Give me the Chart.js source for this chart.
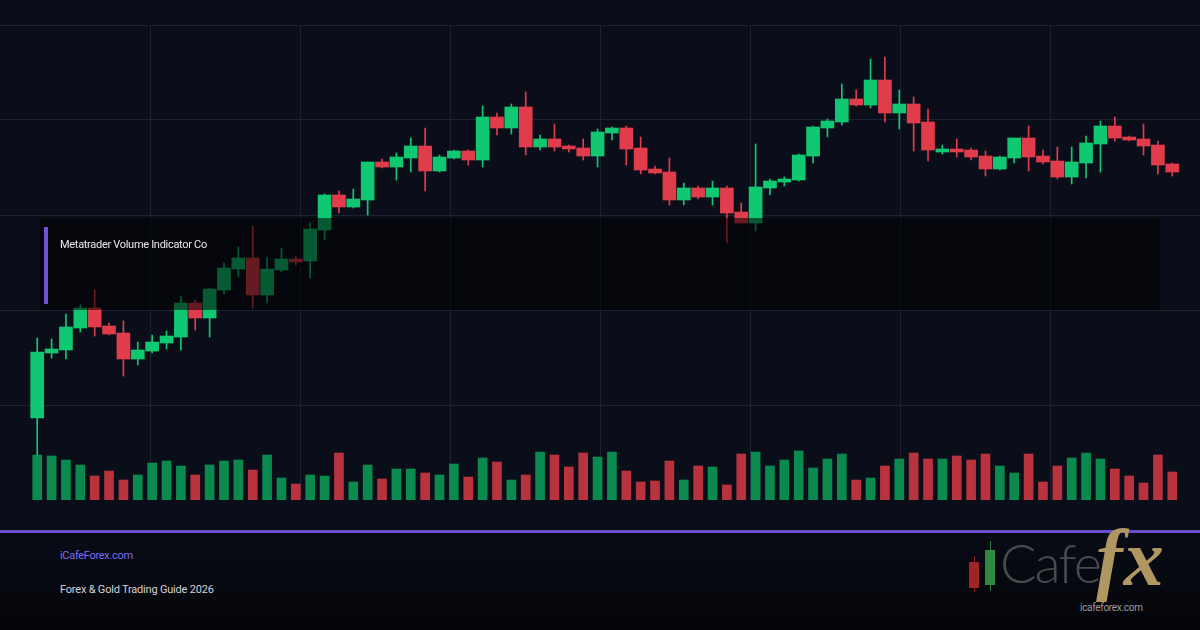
<!DOCTYPE html>
<html>
<head>
<meta charset="utf-8">
<script src="https://cdn.jsdelivr.net/npm/chart.js@4.4.1/dist/chart.umd.min.js"></script>
<style>
  html, body { margin: 0; padding: 0; }
  body {
    width: 1200px; height: 630px; overflow: hidden; position: relative;
    background: linear-gradient(to bottom, #0b0e1a 0px, #0a0e19 500px, #090c16 533px, #040509 630px);
    font-family: Roboto, "Noto Sans", sans-serif;
  }
  #chartBox { position: absolute; left: 0; top: 0; width: 1200px; height: 500px; }
  .overlay { position: absolute; left: 40px; top: 218px; width: 1120px; height: 92px; background: rgba(0, 0, 0, 0.55); }
  .accent { position: absolute; left: 44px; top: 227px; width: 4px; height: 77px; background: #6f52d9; }
  .label { position: absolute; left: 60px; top: 238px; font-size: 11px; color: #e6e6ea; letter-spacing: -0.3px; }
  .rule { position: absolute; left: 0; top: 530px; width: 1200px; height: 3px; background: #6a4fcf; }
  .site { position: absolute; left: 60px; top: 549px; font-size: 11px; color: #7b6cf0; letter-spacing: -0.3px; }
  .guide { position: absolute; left: 60px; top: 583px; font-size: 11px; color: #d4d4dc; letter-spacing: -0.2px; }
  .logo { position: absolute; left: 960px; top: 535px; width: 240px; height: 95px; }
  .logo .w { position: absolute; width: 1px; }
  .logo .b { position: absolute; width: 10px; }
  .logo .cafe { position: absolute; left: 40px; top: -5px; font-size: 54px; font-weight: 300; color: #4a4a4e; letter-spacing: -2px; font-family: Lato, Roboto, sans-serif; }
  .logo .fx { position: absolute; left: 136px; top: -22px; font-size: 80px; font-style: italic; font-weight: bold; color: #b09660; letter-spacing: 1px; font-family: "Liberation Serif", "DejaVu Serif", serif; }
  .logo .url { position: absolute; left: 120px; top: 67px; font-size: 10px; color: #9a9aa2; letter-spacing: -0.3px; }
</style>
</head>
<body>
<div id="chartBox"><canvas id="salesChart" width="1200" height="500"></canvas></div>
<div class="overlay"></div>
<div class="accent"></div>
<div class="label">Metatrader Volume Indicator Co</div>
<div class="rule"></div>
<div class="site">iCafeForex.com</div>
<div class="guide">Forex &amp; Gold Trading Guide 2026</div>
<div class="logo">
  <div class="w" style="left:14px;top:21px;height:36px;background:#8e1f22"></div>
  <div class="b" style="left:9px;top:27px;height:26px;background:#a0232a"></div>
  <div class="w" style="left:30px;top:6px;height:50px;background:#2b7a3a"></div>
  <div class="b" style="left:25px;top:15px;height:35px;background:#2e8a40"></div>
  <div class="cafe">Cafe</div>
  <div class="fx">fx</div>
  <div class="url">icafeforex.com</div>
</div>
<script>
// OHLC (price units, one per candle)
const opens  = [2082,2147,2150,2172,2192,2174,2167,2141,2149,2157,2163,2197,2182,2210,2231,2242,2205,2230,2241,2239,
                2270,2305,2293,2300,2338,2333,2342,2354,2329,2342,2349,2340,2383,2372,2393,2353,2361,2354,2352,2344,
                2367,2372,2352,2331,2328,2300,2312,2303,2312,2288,2277,2312,2318,2320,2344,2372,2378,2401,2395,2420,
                2387,2396,2378,2348,2351,2350,2344,2331,2342,2362,2344,2339,2323,2337,2356,2374,2363,2361,2355,2336];
const highs  = [2162,2161,2186,2195,2210,2177,2179,2158,2165,2169,2204,2200,2212,2237,2253,2274,2243,2252,2244,2277,
                2306,2309,2311,2338,2341,2347,2362,2372,2345,2350,2350,2394,2387,2396,2408,2365,2376,2355,2361,2371,
                2373,2374,2363,2334,2342,2317,2314,2319,2314,2297,2356,2321,2323,2346,2374,2381,2416,2410,2441,2443,
                2410,2403,2391,2355,2361,2352,2349,2344,2362,2374,2350,2353,2353,2364,2379,2383,2364,2376,2359,2337];
const lows   = [2045,2142,2141,2168,2164,2165,2124,2135,2147,2151,2150,2170,2163,2206,2223,2192,2197,2228,2235,2222,
                2260,2287,2292,2285,2332,2320,2328,2309,2328,2341,2335,2333,2365,2366,2345,2350,2349,2348,2340,2333,
                2360,2335,2326,2326,2295,2295,2301,2295,2257,2276,2269,2305,2314,2319,2337,2363,2375,2394,2392,2378,
                2371,2349,2339,2346,2343,2340,2324,2330,2337,2329,2336,2321,2316,2322,2328,2359,2359,2345,2326,2324];
const closes = [2148,2151,2173,2192,2173,2166,2141,2150,2158,2164,2197,2182,2211,2232,2242,2205,2231,2241,2238,2271,
                2305,2293,2301,2338,2333,2343,2354,2329,2343,2349,2340,2383,2372,2393,2353,2361,2353,2351,2344,2368,
                2372,2351,2330,2327,2300,2312,2303,2312,2287,2277,2313,2319,2321,2345,2373,2379,2401,2395,2420,2387,
                2396,2377,2350,2351,2348,2343,2331,2343,2362,2343,2338,2323,2338,2357,2374,2362,2360,2354,2335,2328];
// volume per candle (thousand lots)
const volumes = [45,44,40,35,24,29,20,25,37,39,34,25,35,39,40,30,45,22,16,25,
                 24,47,18,35,21,31,31,27,25,36,23,42,38,20,25,48,45,33,47,43,
                 48,29,18,19,39,20,34,33,15,46,48,34,40,49,32,41,46,20,22,34,
                 41,47,41,41,44,40,46,34,27,46,18,34,42,47,41,31,24,17,45,28];
// background grid
const priceLines = [2000, 2095, 2190, 2285, 2380, 2475];
const timeLines = [0, 150, 300, 450, 600, 750, 900, 1050, 1200];

document.addEventListener('DOMContentLoaded', function () {
    const chartElement = document.getElementById('salesChart');
    const ctx = chartElement.getContext('2d');

    const UP = '#10c872', DOWN = '#e03c4b';
    const VOL_UP = '#0a8a4f', VOL_DOWN = '#b9333f';
    const GRID = '#1c2233';

    const idx = opens.map((_, i) => i);
    const upColors = idx.map(i => closes[i] >= opens[i] ? UP : DOWN);
    const volColors = idx.map(i => closes[i] >= opens[i] ? VOL_UP : VOL_DOWN);

    new Chart(ctx, {
        type: 'bar',
        data: {
            datasets: [
                {
                    label: 'Body',
                    data: idx.map(i => ({ x: i, y: [opens[i], closes[i]] })),
                    backgroundColor: upColors,
                    barThickness: 13,
                    grouped: false,
                    yAxisID: 'y',
                    order: 0
                },
                {
                    label: 'Wick',
                    data: idx.map(i => ({ x: i, y: [lows[i], highs[i]] })),
                    backgroundColor: upColors,
                    barThickness: 1,
                    grouped: false,
                    yAxisID: 'y',
                    order: 1
                },
                {
                    label: 'Volume',
                    data: idx.map(i => ({ x: i, y: volumes[i] })),
                    backgroundColor: volColors,
                    barThickness: 9,
                    grouped: false,
                    yAxisID: 'yv',
                    order: 2
                }
            ]
        },
        options: {
            responsive: false,
            animation: false,
            layout: { padding: { top: 25, left: 0, right: 0, bottom: 0 } },
            plugins: { legend: { display: false }, tooltip: { enabled: false } },
            scales: {
                x: { type: 'linear', display: false, offset: false, grid: { offset: false }, min: -2.59, max: 80.93 },
                xg: {
                    type: 'linear', axis: 'x', position: 'bottom', min: 0, max: 1200,
                    offset: false,
                    afterBuildTicks: s => { s.ticks = timeLines.map(v => ({ value: v })); },
                    ticks: { display: false },
                    grid: {
                        offset: false,
                        color: c => (c.tick && (c.tick.value === 0 || c.tick.value === 1200)) ? 'rgba(0,0,0,0)' : GRID,
                        drawTicks: false
                    },
                    border: { display: false }
                },
                y: {
                    type: 'linear', position: 'left', min: 2000, max: 2475,
                    afterBuildTicks: s => { s.ticks = priceLines.map(v => ({ value: v })); },
                    ticks: { display: false },
                    grid: { color: GRID, drawTicks: false },
                    border: { display: false }
                },
                yv: { type: 'linear', display: false, min: 0, max: 475 }
            }
        }
    });
});
</script>
</body>
</html>
